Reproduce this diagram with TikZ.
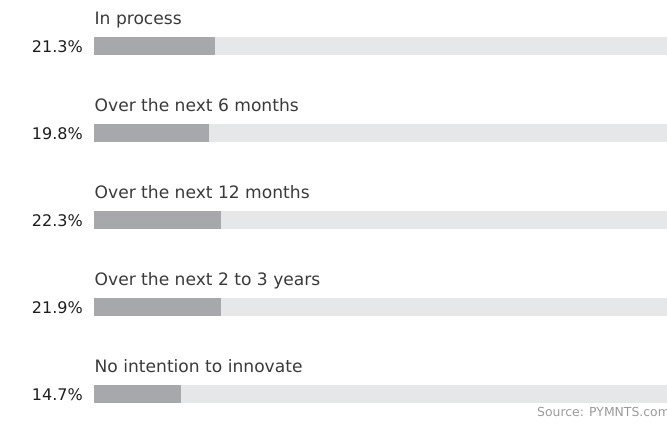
\documentclass[tikz,border=0pt]{standalone}
\usepackage{fontspec}
\setmainfont{DejaVu Sans}
\definecolor{bardark}{HTML}{A7A8AC}
\definecolor{barlight}{HTML}{E6E7E8}
\definecolor{cattext}{HTML}{3A3A3A}
\definecolor{pcttext}{HTML}{1E1E1E}
\definecolor{srctext}{HTML}{9A9A9A}
\begin{document}
\begin{tikzpicture}[x=1pt,y=-1pt,
  cat/.style={anchor=base west,inner sep=0pt,text=cattext,font=\fontsize{17.1}{20}\selectfont},
  pct/.style={anchor=base east,inner sep=0pt,text=pcttext,font=\fontsize{16}{19}\selectfont},
  bg/.style={fill=barlight,draw=none},
  val/.style={fill=bardark,draw=none},
  src/.style={anchor=base west,inner sep=0pt,text=srctext,font=\fontsize{12.4}{14}\selectfont}]
\useasboundingbox (0,0) rectangle (667,429);
\clip (0,0) rectangle (667,429);
\foreach \i/\lab/\v/\e in {0/In process/21.3/215,1/Over the next 6 months/19.8/209,2/Over the next 12 months/22.3/221,3/Over the next 2 to 3 years/21.9/221,4/No intention to innovate/14.7/181}{
  \pgfmathsetmacro{\t}{37+87*\i}
  \fill[bg] (94,\t) rectangle (667,\t+18);
  \fill[val] (94,\t) rectangle (\e,\t+18);
  \node[cat] (c\i) at (94.5,\t-12.3) {\lab};
  \node[pct] (p\i) at (83,\t+15.6) {\v\%};
}
\node[src] (s) at (537,416.5) {Source: PYMNTS.com};
\end{tikzpicture}
\end{document}
